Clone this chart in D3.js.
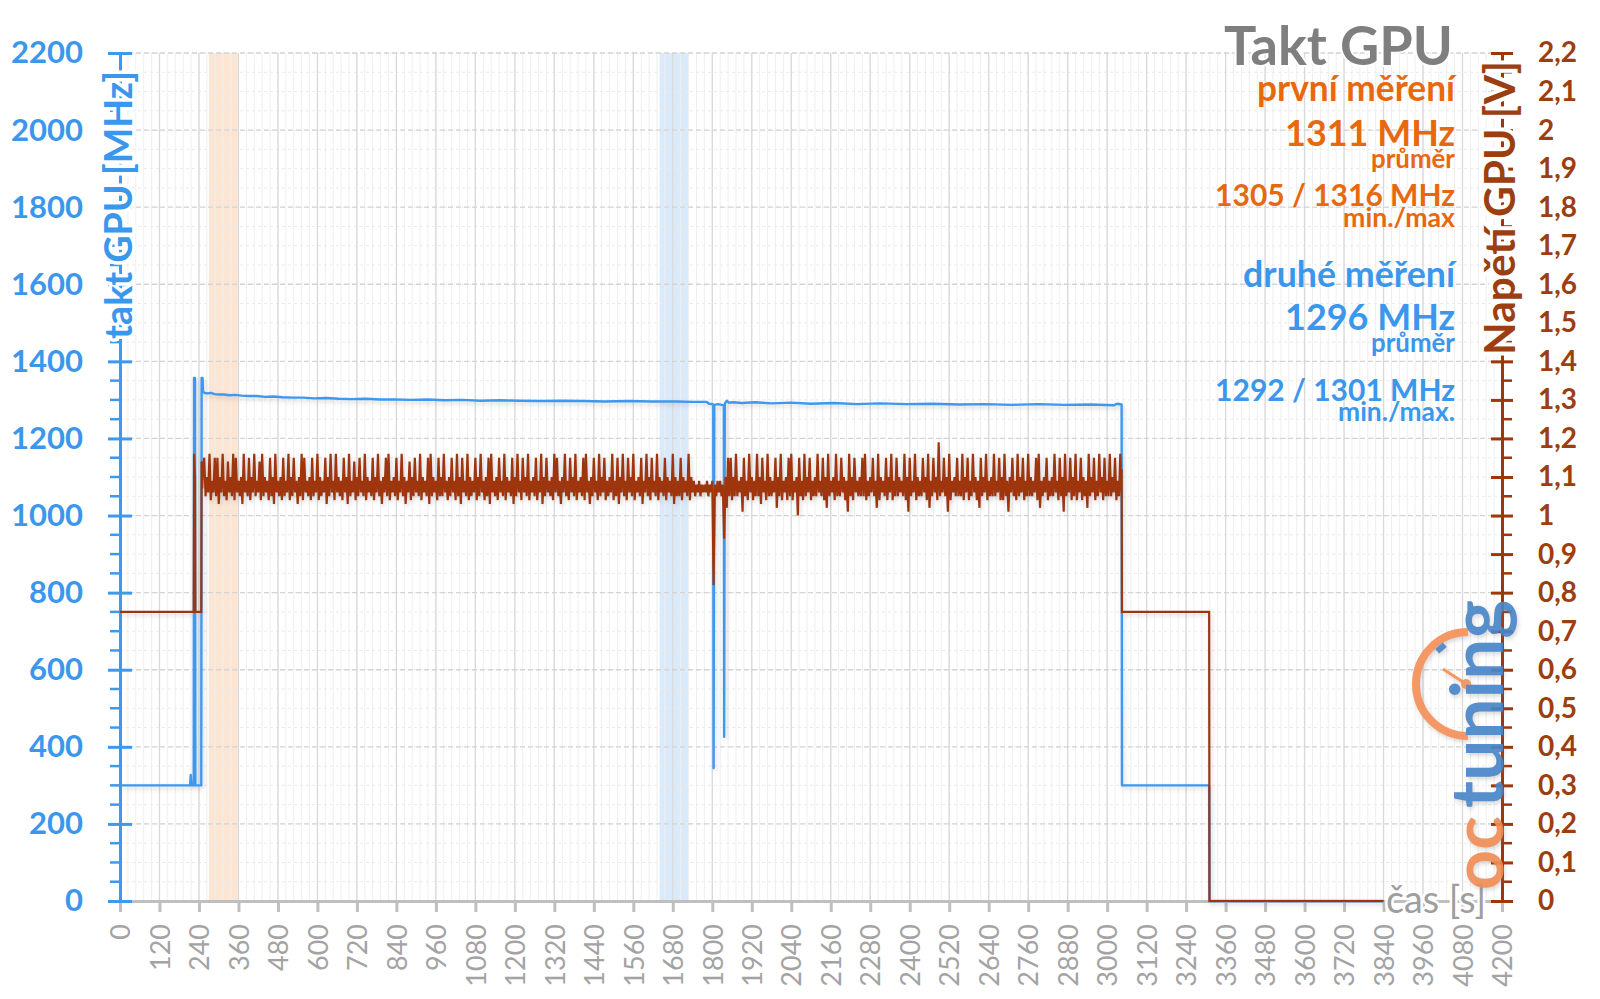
<!DOCTYPE html>
<html><head><meta charset="utf-8">
<script src="https://cdn.jsdelivr.net/npm/d3@7"></script>
<style>
html,body{margin:0;padding:0;background:#fff;}
svg{display:block;font-family:Lato,"Open Sans",sans-serif;}
</style></head><body>
<svg id="chart" width="1600" height="999"></svg>
<script>
// ---------------- DATA ----------------
const xTickValues = [0,120,240,360,480,600,720,840,960,1080,1200,1320,1440,1560,1680,1800,1920,2040,2160,2280,2400,2520,2640,2760,2880,3000,3120,3240,3360,3480,3600,3720,3840,3960,4080,4200];
const leftTickValues = [0,200,400,600,800,1000,1200,1400,1600,1800,2000,2200];
const rightTickValues = [0,0.1,0.2,0.3,0.4,0.5,0.6,0.7,0.8,0.9,1,1.1,1.2,1.3,1.4,1.5,1.6,1.7,1.8,1.9,2,2.1,2.2];

const orangeBand = [270, 358];
const blueBand = [1640, 1728];

// GPU clock, second measurement [s, MHz]
const clockSeries = [[0,300],[213,300],[215,327],[217,300],[224,300],[225,1357],[228,1357],[229,300],[247,300],[248,1357],[251,1357],[252,1321],[258,1318],[266,1317],[276,1318],[288,1315],[300,1314],[316,1314],[332,1312],[350,1313],[370,1311],[392,1310],[416,1310],[440,1308],[466,1309],[494,1307],[524,1306],[556,1306],[590,1304],[626,1305],[664,1303],[704,1302],[746,1303],[790,1301],[836,1301],[884,1300],[934,1301],[986,1299],[1040,1300],[1096,1298],[1154,1299],[1214,1298],[1276,1297],[1340,1298],[1406,1297],[1474,1296],[1544,1297],[1616,1296],[1690,1296],[1740,1295],[1782,1295],[1790,1290],[1798,1289],[1803,1288],[1804,345],[1806,1287],[1818,1289],[1835,1286],[1836,426],[1838,1290],[1844,1298],[1850,1293],[1864,1294],[1890,1292],[1930,1294],[1980,1291],[2040,1293],[2100,1290],[2170,1292],[2240,1289],[2310,1291],[2390,1289],[2470,1290],[2550,1288],[2630,1289],[2710,1287],[2790,1289],[2870,1287],[2950,1288],[3020,1286],[3030,1290],[3044,1288],[3045,300],[3310,300],[3311,0],[3840,0]];

// GPU voltage [s, V]
const voltHead = [[0,0.75],[224,0.75],[225,1.16],[228,1.10],[229,0.75],[247,0.75],[248,1.14],[250,1.07],[252,1.12]];
const voltStart = 256, voltStep = 8;   // peaks at start + i*step, troughs half a step later
const voltPeaks = [
1.15,1.10,1.16,1.09,1.15,1.15,1.10,1.16,1.09,1.14,
1.10,1.16,1.15,1.09,1.10,1.16,1.09,1.15,1.10,1.16,
1.09,1.14,1.16,1.10,1.09,1.15,1.10,1.16,1.09,1.10,
1.15,1.09,1.16,1.10,1.15,1.09,1.10,1.16,1.15,1.09,
1.10,1.15,1.09,1.16,1.10,1.09,1.15,1.10,1.16,1.09,
1.16,1.10,1.09,1.15,1.10,1.16,1.09,1.14,1.10,1.15,
1.09,1.16,1.10,1.09,1.15,1.10,1.16,1.09,1.10,1.15,
1.16,1.09,1.10,1.15,1.09,1.16,1.10,1.09,1.14,1.10,
1.15,1.09,1.16,1.10,1.09,1.15,1.16,1.10,1.09,1.15,
1.10,1.16,1.09,1.10,1.15,1.09,1.16,1.10,1.15,1.09,
1.16,1.10,1.09,1.15,1.10,1.16,1.09,1.10,1.15,1.16,
1.09,1.10,1.15,1.09,1.16,1.10,1.09,1.15,1.10,1.16,
1.09,1.15,1.10,1.16,1.09,1.10,1.15,1.09,1.16,1.10,
1.15,1.09,1.10,1.16,1.15,1.09,1.10,1.16,1.09,1.15,
1.10,1.16,1.09,1.10,1.15,1.16,1.09,1.10,1.15,1.09,
1.16,1.10,1.15,1.09,1.10,1.16,1.09,1.15,1.10,1.16,
1.09,1.15,1.10,1.16,1.09,1.10,1.15,1.09,1.16,1.10,
1.15,1.09,1.16,1.10,1.09,1.15,1.10,1.09,1.16,1.10,
1.09,1.15,1.10,1.09,1.16,1.10,1.09,1.08,1.09,1.08,
1.08,1.09,1.08,1.09,1.08,1.09,1.09,1.08,1.10,1.15,
1.15,1.10,1.16,1.09,1.10,1.15,1.09,1.16,1.10,1.09,
1.16,1.10,1.15,1.09,1.16,1.10,1.09,1.15,1.10,1.16,
1.09,1.10,1.15,1.16,1.09,1.10,1.15,1.09,1.16,1.10,
1.15,1.09,1.10,1.16,1.09,1.15,1.10,1.16,1.09,1.10,
1.16,1.09,1.15,1.10,1.09,1.16,1.10,1.15,1.09,1.10,
1.15,1.16,1.09,1.10,1.15,1.09,1.16,1.10,1.09,1.15,
1.10,1.16,1.09,1.15,1.10,1.09,1.16,1.10,1.15,1.09,
1.16,1.10,1.09,1.15,1.10,1.16,1.09,1.15,1.10,1.19,
1.09,1.15,1.10,1.16,1.09,1.10,1.15,1.09,1.16,1.10,
1.15,1.09,1.16,1.10,1.09,1.15,1.10,1.16,1.09,1.10,
1.16,1.09,1.15,1.10,1.16,1.09,1.10,1.15,1.09,1.16,
1.10,1.15,1.09,1.16,1.10,1.09,1.15,1.16,1.09,1.10,
1.15,1.09,1.10,1.16,1.09,1.15,1.10,1.16,1.09,1.15,
1.10,1.16,1.09,1.15,1.10,1.09,1.16,1.10,1.15,1.09,
1.16,1.10,1.15,1.09,1.16,1.10,1.15,1.09,1.16];
const voltTroughs = [
1.05,1.06,1.04,1.06,1.05,1.03,1.06,1.05,1.04,1.06,
1.05,1.04,1.06,1.05,1.03,1.06,1.05,1.04,1.06,1.05,
1.06,1.04,1.05,1.06,1.04,1.05,1.03,1.06,1.05,1.04,
1.05,1.06,1.04,1.05,1.06,1.03,1.05,1.04,1.06,1.05,
1.04,1.05,1.06,1.04,1.05,1.06,1.03,1.05,1.06,1.04,
1.06,1.05,1.04,1.06,1.03,1.05,1.06,1.04,1.05,1.06,
1.05,1.04,1.06,1.05,1.04,1.06,1.05,1.03,1.06,1.05,
1.04,1.06,1.05,1.04,1.06,1.05,1.03,1.06,1.04,1.05,
1.06,1.05,1.04,1.06,1.05,1.03,1.05,1.06,1.04,1.05,
1.05,1.06,1.04,1.05,1.06,1.04,1.05,1.03,1.06,1.05,
1.04,1.05,1.06,1.04,1.05,1.06,1.04,1.05,1.03,1.06,
1.05,1.04,1.06,1.05,1.04,1.06,1.05,1.03,1.05,1.06,
1.04,1.06,1.05,1.04,1.06,1.05,1.04,1.06,1.03,1.05,
1.06,1.05,1.04,1.06,1.05,1.03,1.06,1.05,1.04,1.06,
1.05,1.04,1.06,1.05,1.04,1.06,1.03,1.05,1.06,1.04,
1.05,1.06,1.04,1.05,1.06,1.04,1.05,1.03,1.06,1.05,
1.04,1.06,1.05,1.04,1.06,1.05,1.03,1.06,1.05,1.04,
1.06,1.05,1.04,1.06,1.05,1.04,1.06,1.05,1.03,1.05,
1.05,1.04,1.06,1.05,1.04,1.06,1.05,1.06,1.05,1.06,
1.06,1.05,1.06,0.82,1.05,1.06,1.05,0.94,1.02,1.05,
1.04,1.05,1.05,1.06,1.01,1.05,1.04,1.06,1.04,1.05,
1.05,1.03,1.06,1.04,1.05,1.05,1.06,1.02,1.05,1.04,
1.06,1.04,1.05,1.04,1.06,1.00,1.05,1.04,1.05,1.06,
1.04,1.05,1.05,1.06,1.05,1.04,1.02,1.05,1.06,1.04,
1.05,1.05,1.06,1.04,1.01,1.05,1.04,1.06,1.05,1.05,
1.05,1.04,1.05,1.06,1.05,1.02,1.04,1.06,1.05,1.04,
1.06,1.04,1.05,1.05,1.06,1.05,1.04,1.01,1.05,1.06,
1.04,1.05,1.05,1.06,1.04,1.02,1.05,1.06,1.04,1.05,
1.06,1.05,1.01,1.04,1.06,1.05,1.05,1.05,1.04,1.06,
1.04,1.05,1.06,1.04,1.02,1.05,1.06,1.04,1.05,1.05,
1.05,1.06,1.04,1.04,1.05,1.01,1.06,1.05,1.04,1.05,
1.06,1.04,1.05,1.05,1.05,1.06,1.04,1.02,1.05,1.06,
1.04,1.05,1.05,1.06,1.04,1.05,1.01,1.05,1.06,1.04,
1.05,1.04,1.06,1.04,1.05,1.02,1.05,1.06,1.04,1.05,
1.06,1.04,1.05,1.05,1.05,1.06,1.04,1.05,1.05];
const voltTail = [[3044,1.12],[3045,0.75],[3310,0.75],[3311,0],[3840,0]];

const titleText = "Takt GPU";
const firstLabel = ["první měření", "1311 MHz", "průměr", "1305 / 1316 MHz", "min./max"];
const secondLabel = ["druhé měření", "1296 MHz", "průměr", "1292 / 1301 MHz", "min./max."];

// ---------------- LAYOUT ----------------
const L = 120, R = 1502, T = 53, B = 901;
const C = {blue:"#3d99f0", blueText:"#3b97ec", brown:"#9e360a", brownText:"#9c3e10",
           orange:"#e8680e", gray:"#7f7f7f", axisGray:"#bfbfbf", tickGray:"#a3a3a3"};

const svg = d3.select("#chart");
const defs = svg.append("defs");
const f = defs.append("filter").attr("id","sh").attr("x","-5%").attr("y","-5%").attr("width","110%").attr("height","110%");
f.append("feDropShadow").attr("dx",1.5).attr("dy",2.5).attr("stdDeviation",2).attr("flood-color","#777").attr("flood-opacity",0.3);

const x = d3.scaleLinear().domain([0,4200]).range([L,R]);
const yL = d3.scaleLinear().domain([0,2200]).range([B,T]);
const yR = d3.scaleLinear().domain([0,2.2]).range([B,T]);

// bands
svg.append("rect").attr("x",x(orangeBand[0])).attr("y",T).attr("width",x(orangeBand[1])-x(orangeBand[0])).attr("height",B-T).attr("fill","#fce5d3");
svg.append("rect").attr("x",x(blueBand[0])).attr("y",T).attr("width",x(blueBand[1])-x(blueBand[0])).attr("height",B-T).attr("fill","#dbeafb");

// grid
const grid = svg.append("g");
grid.selectAll(".vmin").data(d3.range(0,4201,24)).join("line")
  .attr("x1",d=>x(d)).attr("x2",d=>x(d)).attr("y1",T).attr("y2",B)
  .attr("stroke","#efefef").attr("stroke-width",1);
grid.selectAll(".hmin").data(d3.range(0,2201,50)).join("line")
  .attr("x1",L).attr("x2",R).attr("y1",d=>yL(d)).attr("y2",d=>yL(d))
  .attr("stroke","#ebebeb").attr("stroke-width",1).attr("stroke-dasharray","3,3");
grid.selectAll(".vmaj").data(xTickValues).join("line")
  .attr("x1",d=>x(d)).attr("x2",d=>x(d)).attr("y1",T).attr("y2",B)
  .attr("stroke","#d9d9d9").attr("stroke-width",1.3);
grid.selectAll(".hmaj").data(leftTickValues).join("line")
  .attr("x1",L).attr("x2",R).attr("y1",d=>yL(d)).attr("y2",d=>yL(d))
  .attr("stroke","#d4d4d4").attr("stroke-width",1.3).attr("stroke-dasharray","5,3");

// x axis
const xAxis = svg.append("g").attr("transform",`translate(0,${B})`)
  .call(d3.axisBottom(x).tickValues(xTickValues).tickSizeInner(11).tickSizeOuter(0).tickFormat(d3.format("d")));
xAxis.select(".domain").attr("stroke",C.axisGray).attr("stroke-width",3);
xAxis.selectAll(".tick line").attr("stroke",C.axisGray).attr("stroke-width",3);
xAxis.selectAll(".tick text").attr("transform","rotate(-90)").attr("text-anchor","end")
  .attr("x",-23).attr("y",0).attr("dy","0.36em")
  .attr("fill",C.tickGray).attr("font-size",27).attr("font-family","Lato");

// left axis
const yAxisL = svg.append("g").attr("transform",`translate(${L},0)`)
  .call(d3.axisLeft(yL).tickValues(leftTickValues).tickSizeInner(12).tickSizeOuter(0).tickPadding(25).tickFormat(d3.format("d")));
yAxisL.select(".domain").attr("stroke",C.blue).attr("stroke-width",3);
yAxisL.selectAll(".tick line").attr("stroke",C.blue).attr("stroke-width",3).attr("x2",12).attr("x1",-12);
yAxisL.selectAll(".tick text").attr("fill",C.blueText).attr("font-size",31).attr("font-weight",700).attr("font-family","Lato");
yAxisL.selectAll(".minor").data(d3.range(50,2200,50).filter(v=>v%200)).join("line")
  .attr("x1",-10).attr("x2",0).attr("y1",d=>yL(d)).attr("y2",d=>yL(d))
  .attr("stroke",C.blue).attr("stroke-width",2.5);

// right axis
const yAxisR = svg.append("g").attr("transform",`translate(${R},0)`)
  .call(d3.axisRight(yR).tickValues(rightTickValues).tickSizeInner(11).tickSizeOuter(0).tickPadding(25)
  .tickFormat(d=>String(+d.toFixed(1)).replace(".",",")));
yAxisR.select(".domain").attr("stroke",C.brown).attr("stroke-width",3);
yAxisR.selectAll(".tick line").attr("stroke",C.brown).attr("stroke-width",3).attr("x1",-11).attr("x2",11);
yAxisR.selectAll(".tick text").attr("fill",C.brownText).attr("font-size",28).attr("font-weight",700).attr("font-family","Lato");
yAxisR.selectAll(".minor").data(d3.range(0.05,2.2,0.1)).join("line")
  .attr("x1",0).attr("x2",10).attr("y1",d=>yR(d)).attr("y2",d=>yR(d))
  .attr("stroke",C.brown).attr("stroke-width",2.5);

// lines
const voltNoise = voltPeaks.flatMap((p,i)=>[[voltStart+i*voltStep, p],[voltStart+i*voltStep+voltStep/2, voltTroughs[i]]]);
const voltSeries = voltHead.concat(voltNoise, voltTail);
const lines = svg.append("g").attr("filter","url(#sh)");
lines.append("path").datum(clockSeries)
  .attr("d", d3.line().x(d=>x(d[0])).y(d=>yL(d[1])))
  .attr("fill","none").attr("stroke",C.blue).attr("stroke-width",2.4).attr("stroke-linejoin","round");
lines.append("path").datum(voltSeries)
  .attr("d", d3.line().x(d=>x(d[0])).y(d=>yR(d[1])))
  .attr("fill","none").attr("stroke",C.brown).attr("stroke-width",2.2).attr("stroke-linejoin","miter");

function fit(sel, w){
  const len = sel.node().getComputedTextLength();
  const fs = parseFloat(sel.attr("font-size"));
  sel.attr("font-size", fs*w/len);
  return sel;
}
function halo(sel, w){ return sel.attr("stroke","#fff").attr("stroke-width",w).attr("paint-order","stroke").attr("stroke-linejoin","round"); }

// axis titles
fit(halo(svg.append("text").attr("transform",`translate(132,71) rotate(-90)`).attr("text-anchor","end")
  .attr("font-size",36).attr("font-weight",700).attr("fill",C.blueText).text("takt GPU [MHz]"),7), 268);
fit(halo(svg.append("text").attr("transform",`translate(1515,61) rotate(-90)`).attr("text-anchor","end")
  .attr("font-size",34).attr("font-weight",700).attr("fill",C.brownText).text("Napětí GPU [V]"),8), 294);
fit(halo(svg.append("text").attr("x",1386).attr("y",913)
  .attr("font-size",34).attr("fill","#9e9e9e").text("čas [s]"),5), 100);

// title & annotations
const AX = 1455;
fit(halo(svg.append("text").attr("x",AX-2).attr("y",65).attr("text-anchor","end").attr("font-size",55).attr("font-weight",700).attr("fill",C.gray).text(titleText),4),229);
const ann = [
  [firstLabel[0],101,C.orange,198],[firstLabel[1],146,C.orange,170],[firstLabel[2],168,C.orange,84],
  [firstLabel[3],206,C.orange,240],[firstLabel[4],227,C.orange,112],
  [secondLabel[0],287,C.blueText,212],[secondLabel[1],330,C.blueText,170],[secondLabel[2],352,C.blueText,84],
  [secondLabel[3],401,C.blueText,240],[secondLabel[4],421,C.blueText,117]
];
ann.forEach(a=>{
  fit(svg.append("text").attr("x",AX).attr("y",a[1]).attr("text-anchor","end").attr("font-size",30)
    .attr("font-weight",700).attr("fill",a[2]).text(a[0]), a[3]);
});

// logo
const logo = svg.append("g").attr("opacity",0.92).attr("filter","url(#sh)");
logo.append("path").attr("d","M1468,632 A52,52 0 0 0 1468,736").attr("fill","none").attr("stroke","#f4915a").attr("stroke-width",8);
logo.append("line").attr("x1",1443).attr("y1",669).attr("x2",1466).attr("y2",684).attr("stroke","#f4915a").attr("stroke-width",3);
logo.append("circle").attr("cx",1466).attr("cy",684).attr("r",5).attr("fill","#f4915a");
logo.append("rect").attr("x",-5).attr("y",-3).attr("width",10).attr("height",6).attr("fill","#4a86c8").attr("transform","translate(1441,648) rotate(-40)");
fit(logo.append("text").attr("transform","translate(1503,808) rotate(-90)").attr("font-size",62).attr("font-weight",700).attr("fill","#4a86c8").text("tuning"),208);
fit(logo.append("text").attr("transform","translate(1503,890) rotate(-90)").attr("font-size",62).attr("font-weight",700).attr("fill","#f08d55").text("oc"),74);
</script>
</body></html>
